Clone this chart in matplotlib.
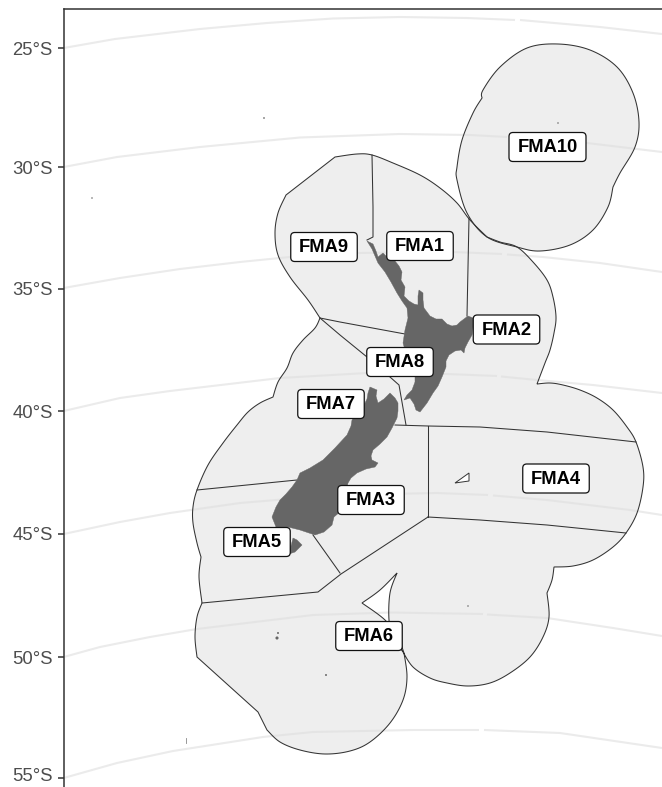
import matplotlib
matplotlib.use("Agg")
import matplotlib.pyplot as plt
from matplotlib.patches import FancyBboxPatch, Polygon
from matplotlib.transforms import ScaledTranslation
import numpy as np

plt.rcParams["font.family"] = ["Liberation Sans", "DejaVu Sans"]

NaN = float("nan")

# projected map units (same scale as the reference picture)
tick_labels = ["25°S", "30°S", "35°S", "40°S", "45°S", "50°S", "55°S"]
tick_pos = [48.3, 167, 288.5, 411, 534, 657, 778.3]

# parallels, NaN = the break at the dateline
grid_25 = [(63.7, 48), (115, 39), (200, 29), (267, 23), (333, 18.5), (400, 17), (467, 18), (515, 20),
           (NaN, NaN), (520, 20), (600, 27), (662, 34)]
grid_30 = [(63.7, 167), (117, 157), (200, 147), (300, 137.5), (400, 134), (470, 135), (507, 137),
           (NaN, NaN), (512, 137.5), (587, 143), (662, 152)]
grid_35 = [(63.7, 288), (120, 278), (180, 269), (240, 262), (300, 256), (357, 253), (453, 252), (502, 254),
           (NaN, NaN), (507, 254.5), (543, 257), (600, 263), (662, 272)]
grid_40 = [(63.7, 411), (120, 398), (170, 391), (280, 378), (367, 373), (447, 374), (497, 376),
           (NaN, NaN), (501, 376.5), (537, 380), (593, 385), (662, 393)]
grid_45 = [(63.7, 534), (120, 522), (170, 513), (240, 503), (337, 495), (437, 493), (488, 495),
           (NaN, NaN), (493, 495.5), (547, 500), (630, 510), (662, 515)]
grid_50 = [(63.7, 657), (100, 647), (150, 637), (197, 629), (313, 615), (390, 612.5), (483, 614),
           (NaN, NaN), (487, 614.5), (547, 618), (613, 628), (662, 636)]
grid_55 = [(63.7, 778), (117, 763), (173, 751), (263, 737), (313, 732), (413, 730), (479, 730),
           (NaN, NaN), (484, 730), (560, 733), (662, 748)]
parallels = [grid_25, grid_30, grid_35, grid_40, grid_45, grid_50, grid_55]

# outer limit of FMA1-9, clockwise from the corner at the top of FMA9
eez_outline = [
    (335, 157), (357, 154), (372, 155), (393, 163), (420, 175), (440, 188), (457, 203), (470, 220),
    (487, 237), (500, 242), (517, 247), (533, 262), (547, 280), (553, 297), (556, 317), (554, 333),
    (550, 350), (545, 363), (537, 384), (550, 383), (563, 385), (580, 390), (597, 398), (613, 410),
    (627, 427), (636, 442), (643, 467), (643, 487), (637, 513), (626, 533), (613, 547), (593, 560),
    (573, 566), (554, 567), (552, 580), (547, 593), (549, 617), (543, 637), (530, 657), (510, 673),
    (490, 683), (468, 686), (447, 683), (430, 678), (413, 667), (403, 652), (393, 637), (389, 620),
    (390, 593), (397, 573), (380, 590), (362, 603), (385, 620), (398, 638), (404, 653), (407, 677),
    (403, 700), (390, 723), (370, 742), (350, 751), (325, 754), (300, 750), (280, 742), (267, 730),
    (258, 712), (197, 657), (195, 637), (197, 617), (202, 603), (199, 577), (201, 557), (197, 543),
    (193, 523), (193, 507), (197, 490), (208, 465), (223, 443), (237, 425), (248, 412), (260, 403),
    (273, 397), (278, 382), (287, 368), (293, 353), (303, 340), (315, 328), (320, 318), (308, 300),
    (290, 277), (278, 255), (275, 233), (278, 213), (286, 195),
]
eez_corners = [
    (335, 157), (487, 237), (537, 384), (554, 567), (547, 593), (403, 652), (397, 573), (362, 603),
    (404, 653), (267, 730), (258, 712), (197, 657), (202, 603), (201, 557), (273, 397), (320, 318),
    (286, 195),
]

fma10_outline = [
    (482, 98), (483, 90), (500, 67), (527, 48), (558, 44), (590, 50), (617, 67), (633, 93),
    (639, 122), (635, 147), (620, 173), (613, 187), (608, 207), (593, 230), (570, 245), (540, 251),
    (517, 247), (487, 237), (467, 213), (457, 180), (457, 167), (462, 140), (473, 113),
]
fma10_corners = [(482, 98), (613, 187)]

# boundaries between the areas
boundaries = [
    [(372, 155), (373, 207), (373, 237), (367, 240)],
    [(469, 218), (467, 316)],
    [(320, 318), (340, 322), (405, 334)],
    [(320, 318), (340, 335), (367, 357)],
    [(390, 377), (399, 385), (406, 425)],
    [(395, 425), (428, 426), (480, 427), (547, 432), (636, 442)],
    [(428, 426), (428, 517)],
    [(428, 517), (480, 520), (547, 525), (626, 533)],
    [(202, 603), (318, 592), (341, 574), (428, 517)],
    [(313, 535), (340, 573)],
    [(197, 490), (297, 480)],
]

north_island = [
    (367, 241), (373, 244), (376, 251), (378, 257), (383, 253), (389, 259), (395, 261), (399, 266),
    (402, 272), (401, 280), (405, 287), (404, 296), (409, 301), (414, 304), (418, 305), (418, 296),
    (419, 290), (423, 293), (423, 300), (424, 308), (430, 316), (436, 319), (442, 319), (447, 324),
    (452, 326), (457, 325), (460, 322), (468, 316), (473, 318), (473, 327), (472, 335), (468, 342),
    (465, 348), (464, 353), (461, 350), (455, 351), (449, 355), (446, 361), (446, 367), (442, 377),
    (438, 386), (433, 393), (427, 403), (420, 412), (416, 410), (414, 404), (410, 398), (404, 400),
    (407, 395), (412, 390), (415, 382), (415, 372), (410, 357), (405, 350), (403, 343), (405, 330),
    (408, 318), (407, 308), (402, 301), (397, 293), (391, 282), (385, 272), (378, 263), (372, 249),
]
south_island = [
    (370, 387), (377, 390), (376, 396), (378, 403), (384, 399), (390, 393), (395, 398), (398, 403),
    (398, 411), (397, 418), (392, 428), (387, 437), (380, 444), (373, 450), (371, 456), (372, 460),
    (378, 463), (375, 467), (366, 469), (357, 473), (351, 478), (348, 483), (345, 497), (341, 511),
    (334, 517), (332, 525), (324, 532), (315, 535), (306, 532), (300, 530), (288, 527), (276, 527),
    (272, 517), (276, 507), (280, 500), (286, 494), (292, 487), (297, 480), (300, 473), (310, 468),
    (323, 460), (335, 448), (347, 435), (351, 426), (352, 420), (358, 412), (363, 407), (367, 399),
    (368, 393),
]
stewart_island = [(293, 538), (297, 540), (302, 545), (298, 549), (295, 552), (289, 554)]

# hole in FMA4 and the small offshore islands
fma4_hole = [(455, 483), (469, 473), (469, 481)]
islet_x = [264, 92, 558, 326, 468, 277, 278]
islet_y = [118, 198, 123, 675, 606, 638, 633]
islet_size = [1.5, 1.2, 1.2, 2, 1.2, 5, 2]

# area labels
label_names = ["FMA1", "FMA2", "FMA3", "FMA4", "FMA5", "FMA6", "FMA7", "FMA8", "FMA9", "FMA10"]
label_x = [420, 506.5, 371, 556, 257, 369, 331, 400, 324, 547.5]
label_y = [246, 329.5, 500, 478.5, 542, 636, 404, 362, 247, 147]

LINE = "#333333"
LAND = "#666666"
AXIS = "#333333"
TEXT = "#4D4D4D"


def curve_run(run, steps=10):
    # Catmull-Rom through the points, to get the round 200 nm arcs
    pts = np.array(run, dtype=float)
    if len(pts) < 3:
        return pts
    p = np.vstack([pts[0], pts, pts[-1]])
    out = []
    for i in range(1, len(p) - 2):
        for t in np.linspace(0, 1, steps, endpoint=False):
            out.append(0.5 * (2 * p[i] + (p[i + 1] - p[i - 1]) * t
                              + (2 * p[i - 1] - 5 * p[i] + 4 * p[i + 1] - p[i + 2]) * t ** 2
                              + (3 * p[i] - p[i - 1] - 3 * p[i + 1] + p[i + 2]) * t ** 3))
    out.append(pts[-1])
    return np.array(out)


def smooth_outline(outline, corners):
    # outline must start on a corner; each stretch between corners is curved on its own
    closed = outline + [outline[0]]
    run, parts = [closed[0]], []
    for pt in closed[1:]:
        run.append(pt)
        if pt in corners or pt == closed[0]:
            parts.append(curve_run(run))
            run = [pt]
    return np.vstack(parts)


def main():
    fig = plt.figure(figsize=(6.62, 7.87), dpi=100)
    ax = fig.add_axes([63.7 / 662, 0, 1 - 63.7 / 662, 1 - 9 / 787])
    ax.set_xlim(63.7, 662)
    ax.set_ylim(787, 9)

    for line in parallels:
        pts = np.array(line)
        ax.plot(pts[:, 0], pts[:, 1], color="#EBEBEB", lw=1.5, zorder=1, solid_capstyle="butt")

    # alpha so the parallels just show through the fill
    for outline, corners in ((eez_outline, eez_corners), (fma10_outline, fma10_corners)):
        xy = smooth_outline(outline, corners)
        ax.add_patch(Polygon(xy, closed=True, facecolor="#E0E0E0", alpha=0.55,
                             edgecolor="none", zorder=2))
        ax.add_patch(Polygon(xy, closed=True, facecolor="none", edgecolor=LINE,
                             lw=0.75, zorder=3))

    for seg in boundaries:
        pts = np.array(seg)
        ax.plot(pts[:, 0], pts[:, 1], color=LINE, lw=0.75, zorder=3)

    ax.add_patch(Polygon(fma4_hole, closed=True, facecolor="white", edgecolor=LINE, lw=0.7, zorder=3))

    for land in (north_island, south_island, stewart_island):
        ax.add_patch(Polygon(land, closed=True, facecolor=LAND, edgecolor=LAND, lw=0.3, zorder=4))
    ax.scatter(islet_x, islet_y, s=islet_size, color=LAND, lw=0, zorder=4)
    ax.plot([185.5, 185.5], [738, 743], color="#888888", lw=0.6, zorder=4)

    for name, x, y in zip(label_names, label_x, label_y):
        w = 77 if name == "FMA10" else 66.5
        h = 29
        r = 4
        ax.add_patch(FancyBboxPatch((x - w / 2 + r, y - h / 2 + r), w - 2 * r, h - 2 * r,
                                    boxstyle=f"round,pad={r},rounding_size={r}",
                                    facecolor="white", edgecolor="#111111", lw=0.9, zorder=5))
        ax.text(x, y + 0.5, name, ha="center", va="center", fontsize=13.2, fontweight="bold",
                color="black", zorder=6)

    for side in ("right", "bottom"):
        ax.spines[side].set_visible(False)
    for side in ("left", "top"):
        ax.spines[side].set_color(AXIS)
        ax.spines[side].set_linewidth(1.1)

    ax.set_xticks([])
    ax.set_yticks(tick_pos)
    ax.set_yticklabels(tick_labels, fontsize=13.3, color=TEXT, va="center_baseline")
    ax.tick_params(axis="y", length=4, width=1.1, color=AXIS, pad=4)

    # keep the lowest label clear of the bottom edge
    last = ax.get_yticklabels()[-1]
    last.set_transform(last.get_transform() + ScaledTranslation(0, 2.5 / 72, fig.dpi_scale_trans))

    fig.savefig("out.png", dpi=100, facecolor="white")
    plt.close(fig)


if __name__ == "__main__":
    main()
